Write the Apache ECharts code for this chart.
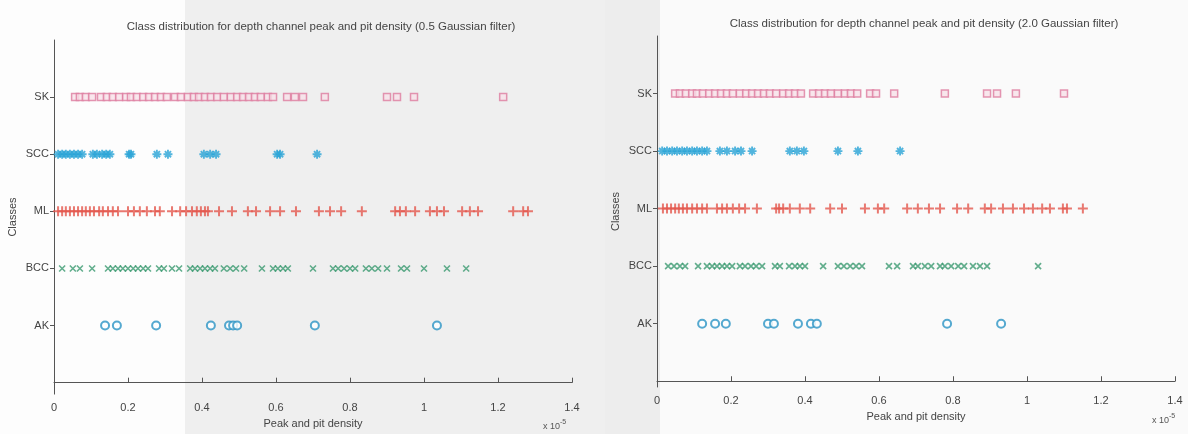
<!DOCTYPE html>
<html>
<head>
<meta charset="utf-8">
<script src="https://cdn.jsdelivr.net/npm/echarts@6/dist/echarts.min.js"></script>
<style>
  html, body { margin: 0; padding: 0; background: #f5f5f5; }
  #chart { width: 1188px; height: 434px; }
</style>
</head>
<body>
<div id="chart"></div>
<script>
// classes from bottom (1) to top (5)
const classes = ["AK", "BCC", "ML", "SCC", "SK"];

// peak and pit density, x 10^-5 — 0.5 Gaussian filter
const leftSK = [0.057, 0.070, 0.086, 0.103, 0.127, 0.143, 0.159, 0.176, 0.195, 0.208, 0.224, 0.241, 0.257, 0.273, 0.289, 0.305, 0.327, 0.343, 0.362, 0.378, 0.392, 0.408, 0.424, 0.441, 0.459, 0.478, 0.495, 0.511, 0.527, 0.543, 0.559, 0.578, 0.592, 0.630, 0.651, 0.673, 0.732, 0.900, 0.927, 0.973, 1.214];
const leftSCC = [0.011, 0.022, 0.032, 0.043, 0.054, 0.065, 0.076, 0.105, 0.116, 0.130, 0.141, 0.151, 0.203, 0.208, 0.278, 0.308, 0.405, 0.422, 0.438, 0.603, 0.611, 0.711];
const leftML = [0.011, 0.022, 0.032, 0.043, 0.054, 0.065, 0.076, 0.086, 0.097, 0.108, 0.122, 0.132, 0.146, 0.159, 0.173, 0.200, 0.216, 0.232, 0.251, 0.273, 0.286, 0.319, 0.341, 0.357, 0.373, 0.386, 0.397, 0.408, 0.416, 0.446, 0.481, 0.524, 0.546, 0.584, 0.611, 0.654, 0.716, 0.746, 0.776, 0.832, 0.922, 0.935, 0.951, 0.976, 1.016, 1.035, 1.054, 1.103, 1.124, 1.146, 1.241, 1.268, 1.281];
const leftBCC = [0.022, 0.051, 0.070, 0.103, 0.146, 0.159, 0.173, 0.186, 0.200, 0.214, 0.227, 0.241, 0.254, 0.284, 0.297, 0.319, 0.338, 0.368, 0.381, 0.395, 0.408, 0.422, 0.435, 0.459, 0.476, 0.492, 0.514, 0.562, 0.592, 0.605, 0.619, 0.632, 0.700, 0.754, 0.768, 0.784, 0.800, 0.814, 0.843, 0.859, 0.876, 0.900, 0.938, 0.954, 1.000, 1.062, 1.114];
const leftAK = [0.138, 0.170, 0.276, 0.424, 0.473, 0.484, 0.495, 0.705, 1.035];

// 2.0 Gaussian filter
const rightSK = [0.049, 0.062, 0.078, 0.095, 0.108, 0.124, 0.141, 0.157, 0.173, 0.189, 0.205, 0.224, 0.241, 0.257, 0.273, 0.289, 0.305, 0.322, 0.341, 0.357, 0.373, 0.389, 0.422, 0.438, 0.454, 0.470, 0.489, 0.508, 0.524, 0.541, 0.576, 0.592, 0.641, 0.778, 0.892, 0.919, 0.970, 1.100];
const rightSCC = [0.014, 0.027, 0.041, 0.054, 0.068, 0.081, 0.095, 0.108, 0.122, 0.135, 0.170, 0.189, 0.211, 0.227, 0.257, 0.359, 0.378, 0.397, 0.489, 0.543, 0.657];
const rightML = [0.016, 0.027, 0.038, 0.049, 0.059, 0.070, 0.081, 0.095, 0.108, 0.122, 0.135, 0.162, 0.176, 0.189, 0.205, 0.222, 0.238, 0.270, 0.322, 0.330, 0.341, 0.359, 0.386, 0.414, 0.468, 0.500, 0.562, 0.597, 0.614, 0.676, 0.705, 0.735, 0.765, 0.811, 0.841, 0.886, 0.903, 0.935, 0.962, 0.992, 1.016, 1.041, 1.062, 1.097, 1.108, 1.151];
const rightBCC = [0.030, 0.046, 0.062, 0.076, 0.111, 0.135, 0.149, 0.162, 0.176, 0.189, 0.203, 0.224, 0.238, 0.254, 0.268, 0.284, 0.319, 0.332, 0.357, 0.373, 0.386, 0.400, 0.449, 0.489, 0.505, 0.522, 0.538, 0.554, 0.627, 0.649, 0.692, 0.705, 0.724, 0.741, 0.765, 0.778, 0.795, 0.814, 0.830, 0.854, 0.873, 0.892, 1.030];
const rightAK = [0.122, 0.157, 0.186, 0.300, 0.316, 0.381, 0.416, 0.432, 0.784, 0.930];

const FONT = "Liberation Sans Narrow, Liberation Sans, Arial, sans-serif";

const styles = {
  SK:  { symbol: "rect", size: 7, itemStyle: { color: "#f7e1e9", borderColor: "#dd7c9f", borderWidth: 1.5 } },
  SCC: { symbol: "path://M0,5L10,5M5,0L5,10M1.6,1.6L8.4,8.4M1.6,8.4L8.4,1.6", size: 9, itemStyle: { color: "transparent", borderColor: "#27a2d6", borderWidth: 1.9 } },
  ML:  { symbol: "path://M0,5L10,5M5,0L5,10", size: 10, itemStyle: { color: "transparent", borderColor: "#e4574d", borderWidth: 2 } },
  BCC: { symbol: "path://M0,0L10,10M0,10L10,0", size: 6, itemStyle: { color: "transparent", borderColor: "#3b9a70", borderWidth: 1.6 } },
  AK:  { symbol: "emptyCircle", size: 8, itemStyle: { color: "#2a94c4", borderWidth: 2 } },
};

const makeSeries = (name, values, idx) => ({
  name,
  type: "scatter",
  xAxisIndex: idx,
  yAxisIndex: idx,
  symbol: styles[name].symbol,
  symbolSize: styles[name].size,
  itemStyle: styles[name].itemStyle,
  data: values.map(v => [v, classes.indexOf(name) + 1]),
  silent: true,
});

const xAxisCfg = (idx) => ({
  gridIndex: idx,
  type: "value",
  min: 0,
  max: 1.4,
  interval: 0.2,
  name: "Peak and pit density",
  nameLocation: "middle",
  nameGap: idx === 0 ? 22 : 24,
  nameTextStyle: { color: "#444", fontSize: 11, fontFamily: FONT },
  axisLine: { lineStyle: { color: "#555", width: 1 } },
  axisTick: { inside: true, length: 5, lineStyle: { color: "#555" } },
  axisLabel: { color: "#444", fontSize: 11, fontFamily: FONT, margin: 8 },
  splitLine: { show: false },
});

const yAxisCfg = (idx, min) => ({
  gridIndex: idx,
  type: "value",
  min,
  max: 6,
  name: "Classes",
  nameLocation: "middle",
  nameGap: 36,
  nameTextStyle: { color: "#444", fontSize: 11, fontFamily: FONT },
  axisLine: { show: true, lineStyle: { color: "#555", width: 1 } },
  axisTick: { show: true, inside: false, length: 4, customValues: [1, 2, 3, 4, 5], lineStyle: { color: "#555" } },
  axisLabel: {
    color: "#444", fontSize: 11, fontFamily: FONT, margin: 5,
    customValues: [1, 2, 3, 4, 5],
    formatter: v => classes[Math.round(v) - 1] || "",
  },
  splitLine: { show: false },
});

const expText = (x, y) => ({
  type: "text",
  left: x,
  top: y,
  style: {
    text: "x 10{s|-5}",
    rich: { s: { fontSize: 7, verticalAlign: "top", padding: [0, 0, 8, 0], fill: "#555" } },
    fill: "#555",
    font: "9px " + FONT,
  },
});

const chart = echarts.init(document.getElementById("chart"));
chart.setOption({
  animation: false,
  backgroundColor: "#f6f6f6",
  graphic: [
    { type: "rect", z: -10, shape: { x: 0, y: 0, width: 185, height: 434 }, style: { fill: "#fdfdfd" } },
    { type: "rect", z: -10, shape: { x: 185, y: 0, width: 420, height: 434 }, style: { fill: "#efefef" } },
    { type: "rect", z: -10, shape: { x: 605, y: 0, width: 55, height: 434 }, style: { fill: "#ededed" } },
    { type: "rect", z: -10, shape: { x: 660, y: 0, width: 528, height: 434 }, style: { fill: "#fafafa" } },
    expText(543, 419),
    expText(1152, 413),
  ],
  title: [
    {
      text: "Class distribution for depth channel peak and pit density (0.5 Gaussian filter)",
      left: 316, top: 16, textAlign: "center",
      textStyle: { fontSize: 11.5, fontWeight: "normal", color: "#444", fontFamily: FONT },
    },
    {
      text: "Class distribution for depth channel peak and pit density (2.0 Gaussian filter)",
      left: 919, top: 13, textAlign: "center",
      textStyle: { fontSize: 11.5, fontWeight: "normal", color: "#444", fontFamily: FONT },
    },
  ],
  grid: [
    { left: 54, top: 40, width: 518, height: 357 },
    { left: 657, top: 36, width: 518, height: 351 },
  ],
  xAxis: [xAxisCfg(0), xAxisCfg(1)],
  yAxis: [yAxisCfg(0, -0.2), yAxisCfg(1, -0.1)],
  series: [
    makeSeries("SK", leftSK, 0),
    makeSeries("SCC", leftSCC, 0),
    makeSeries("ML", leftML, 0),
    makeSeries("BCC", leftBCC, 0),
    makeSeries("AK", leftAK, 0),
    makeSeries("SK", rightSK, 1),
    makeSeries("SCC", rightSCC, 1),
    makeSeries("ML", rightML, 1),
    makeSeries("BCC", rightBCC, 1),
    makeSeries("AK", rightAK, 1),
  ],
});
</script>
</body>
</html>
